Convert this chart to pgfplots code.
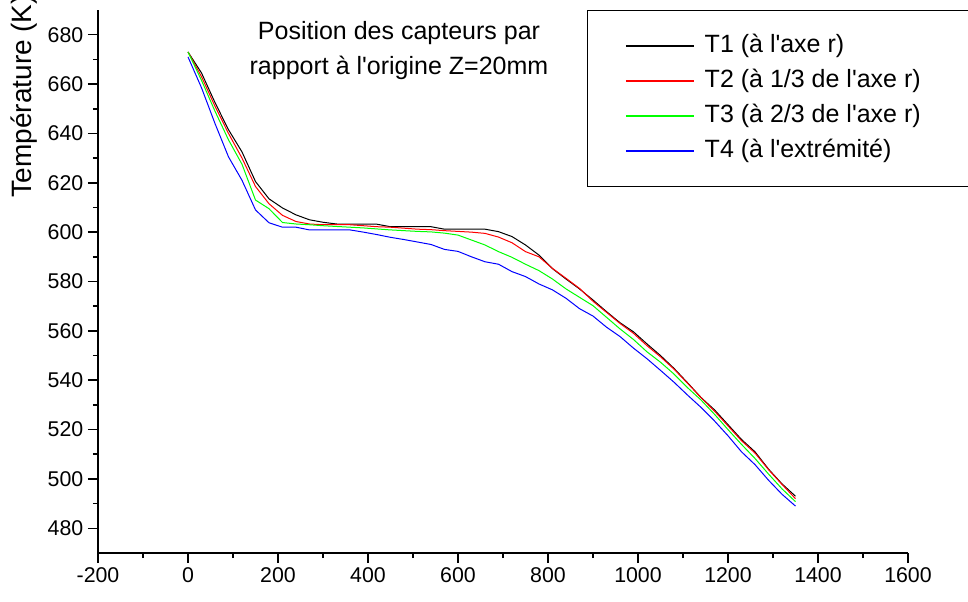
\documentclass[border=0pt]{standalone}
\usepackage{fontspec}
\setmainfont{Liberation Sans}
\usepackage{pgfplots}
\pgfplotsset{compat=1.18}
\usepackage{pgfplotstable}

% temperature profiles, x in mm, T in K
\pgfplotstableread{
x T1 T2 T3 T4
0 673 673 673 671
30 664.5 663 661.5 658.5
60 652.5 651 649 644
90 641.5 640 637.4 630.5
120 632.5 630 627.5 621
150 620.5 618.5 613 609
180 613.5 611.5 609.5 603.8
210 609.8 606.8 603.9 602
240 607 604.3 603.3 602
270 605 603.3 603 600.9
300 604 603 602.6 600.9
330 603.3 603 602.3 600.9
360 603.2 603 602 600.9
390 603.2 602.6 601.7 600
420 603.2 602.2 601.3 599
450 602.2 602 600.9 597.9
480 602.2 601.6 600.6 597
510 602.2 601.2 600.3 596
540 602.2 601 600.1 595
570 601.2 600.6 599.6 593
600 601.2 600.3 598.8 592.2
630 601.2 600 596.8 590
660 601.2 599.5 594.8 588
690 600.2 598 592.1 587
720 598.2 595.7 589.8 584
750 594.8 592.1 587 582
780 590.7 590 584.4 579
810 585.2 585.3 581 576.6
840 581 581.3 577 573.2
870 577 577.2 573.6 569
900 572.5 572 570.2 566
930 567.8 567.5 565.5 561.5
960 563.3 563 560.8 557.7
990 559.6 559 556.5 553
1020 554.7 554 551.5 548.7
1050 550 549.5 547.3 544
1080 544.8 544.5 542.5 539.2
1110 539 538.8 537 534
1140 533 533 532 529
1170 528 527.5 526.2 523.5
1200 522 521.5 520 517.5
1230 516 515.5 514 511
1260 511 510.5 508.3 505.8
1290 504 503.8 502 499.5
1320 498 497.8 496 493.8
1350 493 492 490.8 489
}\data

\newcommand{\q}{\textquotesingle}

\begin{document}
\begin{tikzpicture}
\begin{axis}[
scale only axis,
width=607.5pt,
height=407.25pt,
xmin=-200, xmax=1600,
ymin=470, ymax=690,
xtick={-200,0,...,1600},
ytick={480,500,...,680},
minor tick num=1,
axis lines=left,
axis line style={-, line width=1.5pt},
tick align=outside,
major tick length=7.5pt,
minor tick length=3.75pt,
every tick/.style={black, line width=1.2pt},
/pgf/number format/assume math mode=true,
/pgf/number format/1000 sep={},
tick label style={font=\fontsize{16}{19}\selectfont},
ylabel={Température (K)},
every axis y label/.style={at={([xshift=-49.5pt]rel axis cs:0,0.6464)}, rotate=90, anchor=base west, font=\fontsize{21}{24}\selectfont},
legend cell align=left,
legend style={at={(0.6037,1)}, anchor=north west,
  font=\fontsize{18.75}{22}\selectfont, inner xsep=28.5pt, inner ysep=18pt,
  row sep=8.75pt, column sep=7.5pt,
  nodes={inner sep=0pt, text height=13.5pt, text depth=4pt}},
legend image code/.code={\draw[#1, line width=1.1pt] (0pt,0pt) -- (51pt,0pt);},
]
\addplot[black, line width=0.75pt] table[x=x, y=T1] {\data};
\addlegendentry{T1 (à l\q axe r)}
\addplot[red, line width=0.75pt] table[x=x, y=T2] {\data};
\addlegendentry{T2 (à 1/3 de l\q axe r)\hspace*{20pt}}
\addplot[green, line width=0.75pt] table[x=x, y=T3] {\data};
\addlegendentry{T3 (à 2/3 de l\q axe r)}
\addplot[blue, line width=0.75pt] table[x=x, y=T4] {\data};
\addlegendentry{T4 (à l\q extrémité)}
\node[align=center, font=\fontsize{18.75}{26.25}\selectfont] at (rel axis cs:0.3716,0.9254)
  {Position des capteurs par\\rapport à l\q origine Z=20mm};
\coordinate (sw) at (rel axis cs:0,0);
\coordinate (ne) at (rel axis cs:1,1);
\end{axis}
\pgfresetboundingbox
\path[use as bounding box] ([shift={(-73.5pt,-36pt)}]sw) rectangle ([shift={(45pt,7.5pt)}]ne);
\end{tikzpicture}
\end{document}
